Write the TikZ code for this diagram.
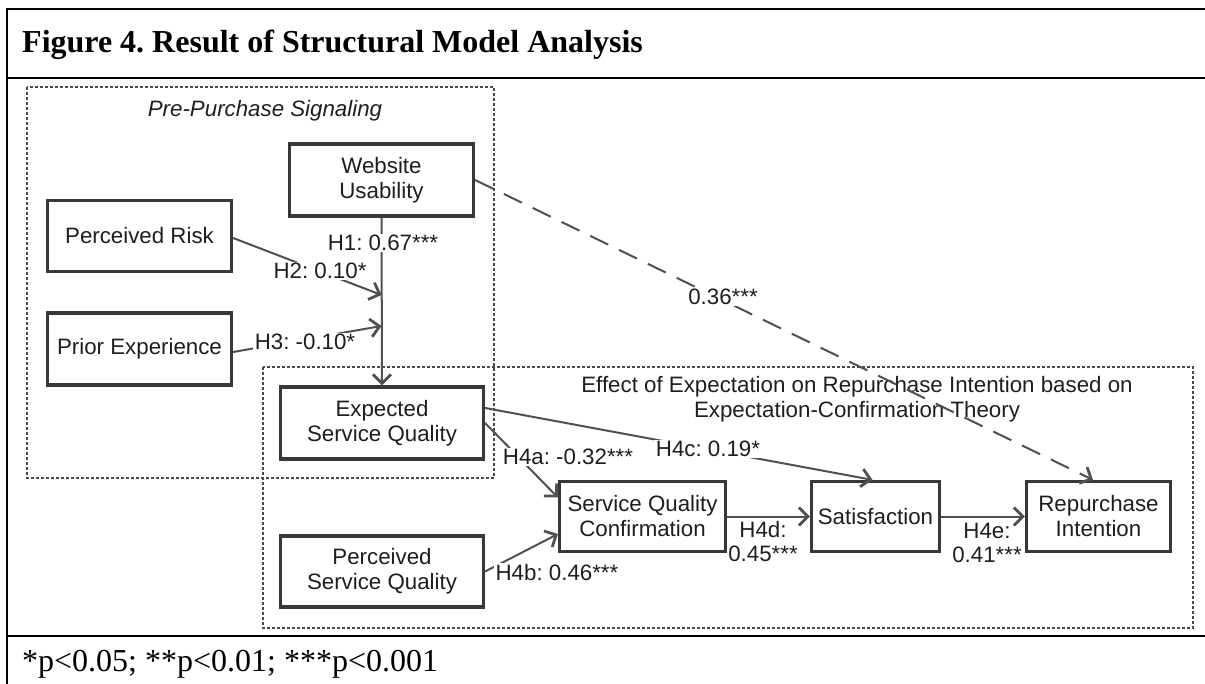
\documentclass[tikz,border=0pt]{standalone}
\usepackage{fontspec}
\setmainfont{Liberation Serif}
\newfontfamily\arialf{Liberation Sans}
\usetikzlibrary{arrows.meta}
\frenchspacing
\definecolor{boxc}{HTML}{383838}
\definecolor{linec}{HTML}{505050}
\definecolor{txtc}{HTML}{1E1E1E}
\definecolor{grpc}{HTML}{4A4A4A}
\tikzset{
  cbox/.style={draw=boxc, line width=3.2pt, fill=white, align=center, text=txtc,
    font=\arialf\fontsize{22.3}{25}\selectfont, inner sep=0pt},
  conn/.style={draw=linec, line width=2pt,
    -{Straight Barb[length=9pt,width=18pt,line width=2.8pt]}},
  dconn/.style={conn, dash pattern=on 20pt off 12pt},
  lab/.style={fill=white, inner sep=1.5pt, text=txtc, align=center,
    font=\arialf\fontsize{22.3}{24}\selectfont},
  labnf/.style={inner sep=0pt, text=txtc, align=center,
    font=\arialf\fontsize{22.3}{24}\selectfont},
  grp/.style={draw=grpc, line width=1.3pt, dash pattern=on 3pt off 2pt},
  grptitle/.style={text=txtc, align=center, inner sep=0pt,
    font=\arialf\fontsize{22.3}{24.5}\selectfont},
  frame/.style={draw=black},
}
\begin{document}
\begin{tikzpicture}[x=1pt,y=-1pt]
\useasboundingbox (0,0) rectangle (1205,684);
% table frame
\draw[frame, line width=2pt] (7,9) -- (1205,9);
\draw[frame, line width=2.5pt] (7,8) -- (7,684);
\draw[frame, line width=1.2pt] (7,78) -- (1205,78);
\draw[frame, line width=1.2pt] (7,636) -- (1205,636);
\node[anchor=base west, inner sep=0pt, font=\bfseries\fontsize{32}{36}\selectfont] (title) at (22,53)
  {Figure 4. Result of Structural Model Analysis};
\node[anchor=base west, inner sep=0pt, font=\fontsize{32}{36}\selectfont] (foot) at (22,671)
  {*p<0.05; **p<0.01; ***p<0.001};
% groups
\draw[grp] (263,367) rectangle (1193,628);
\draw[grp] (27,87) rectangle (494,478);
\node[grptitle, font=\arialf\itshape\fontsize{22.3}{24.5}\selectfont] (g1) at (265,111) {Pre-Purchase Signaling};
\node[grptitle] (g2) at (857,399) {Effect of Expectation on Repurchase Intention based on\\Expectation-Confirmation Theory};
% nodes
\node[cbox, minimum width=184pt, minimum height=72pt] (wu) at (381.5,180) {Website\\Usability};
\node[cbox, minimum width=184pt, minimum height=71pt] (pr) at (139.5,236) {Perceived Risk};
\node[cbox, minimum width=184pt, minimum height=72pt] (pe) at (139.5,349) {Prior Experience};
\node[cbox, minimum width=203pt, minimum height=72pt] (esq) at (382,423) {Expected\\Service Quality};
\node[cbox, minimum width=203pt, minimum height=71pt] (psq) at (382,571.5) {Perceived\\Service Quality};
\node[cbox, minimum width=166pt, minimum height=70pt] (sqc) at (642.5,516.5) {Service Quality\\Confirmation};
\node[cbox, minimum width=128pt, minimum height=70pt] (sat) at (875.5,516.5) {Satisfaction};
\node[cbox, minimum width=144pt, minimum height=70pt] (ri) at (1098.5,516.5) {Repurchase\\Intention};
\coordinate (h2end) at (381.5,295);
\coordinate (h3end) at (381.5,326);
% connectors
\draw[conn] (wu.south) -- (esq.north);
\draw[conn] ([yshift=-2pt]pr.east) -- (h2end);
\draw[conn] ([yshift=-3pt]pe.east) -- (h3end);
\draw[dconn] (wu.east) -- ([xshift=-5.5pt]ri.north);
\draw[conn] ([yshift=15pt]esq.east) -- ([xshift=-3pt]sat.north);
\draw[conn] (esq.east) -- ([yshift=19pt]sqc.west);
\draw[conn] (psq.east) -- ([yshift=-17.5pt]sqc.west);
\draw[conn] (sqc.east) -- (sat.west);
\draw[conn] (sat.east) -- (ri.west);
% labels
\node[lab] (l1) at (383,243) {H1: 0.67***};
\node[lab] (l2) at (320,271) {H2: 0.10*};
\node[lab] (l3) at (305,342) {H3: -0.10*};
\node[lab] (l36) at (723,297) {0.36***};
\node[lab] (l4c) at (708,449) {H4c: 0.19*};
\node[lab] (l4a) at (568,457) {H4a: -0.32***};
\node[lab] (l4b) at (557,573) {H4b: 0.46***};
\node[labnf] (l4d) at (763,542) {H4d:\\0.45***};
\node[labnf] (l4e) at (987,543) {H4e:\\0.41***};
\end{tikzpicture}
\end{document}
